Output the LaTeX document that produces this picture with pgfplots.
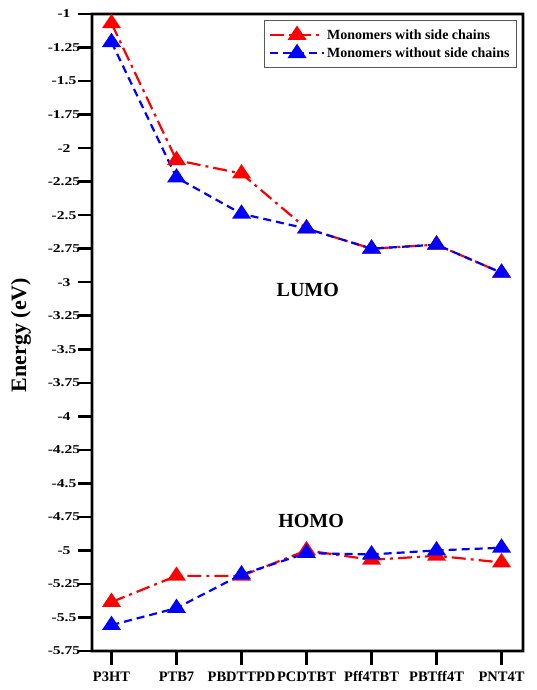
\documentclass[border=0pt]{standalone}
\usepackage{pgfplots}
\pgfplotsset{compat=1.18}
\usepackage{fontspec}
\setmainfont{Liberation Serif}
\newfontfamily\stretchfont[FakeStretch=1.3]{Liberation Serif}
\begin{document}
\begin{tikzpicture}
\begin{axis}[
  scale only axis,
  width=431pt, height=637pt,
  xmin=-0.30, xmax=6.33,
  ymin=-5.75, ymax=-1,
  ytick={-5.75,-5.5,-5.25,-5,-4.75,-4.5,-4.25,-4,-3.75,-3.5,-3.25,-3,-2.75,-2.5,-2.25,-2,-1.75,-1.5,-1.25,-1},
  yticklabel={\stretchfont\bfseries\pgfmathprintnumber[assume math mode=true]{\tick}},
  yticklabel style={anchor=center, xshift=-14pt, font=\fontsize{12}{13}\selectfont},
  xtick={0,...,6},
  xticklabels={P3HT,PTB7,PBDTTPD,PCDTBT,Pff4TBT,PBTff4T,PNT4T},
  xticklabel style={font=\bfseries\fontsize{14.5}{16}\selectfont, yshift=-3pt},
  tick align=outside,
  tick pos=left,
  major tick length=14pt,
  major tick style={draw=black, line width=2.5pt},
  axis line style={draw=black, line width=2.6pt},
  ylabel={Energy (eV)},
  ylabel style={at={(axis description cs:-0.1647,0.496)}, anchor=center, font=\bfseries\fontsize{22}{23}\selectfont},
  legend style={at={(rel axis cs:0.986,0.9906)}, anchor=north east, draw=gray!70!black, line width=0.8pt, font=\bfseries\fontsize{14}{16}\selectfont, row sep=3pt, inner xsep=5pt, inner ysep=7pt},
  legend cell align=left,
  legend image code/.code={\draw[mark repeat=2,mark phase=2] plot coordinates {(0pt,0pt) (27pt,0pt) (54pt,0pt)};},
  clip=false,
]
\addplot[red, line width=2.2pt, dash pattern=on 14pt off 5pt on 3pt off 5pt, mark=triangle*, mark size=7.5pt, mark options={solid, xscale=1.15}] coordinates {
 (0,-1.07) (1,-2.09) (2,-2.19) (3,-2.60) (4,-2.75) (5,-2.72) (6,-2.93)};
\addlegendentry{Monomers with side chains}
\addplot[blue, line width=2.2pt, dash pattern=on 8pt off 5pt, mark=triangle*, mark size=7.5pt, mark options={solid, xscale=1.15}] coordinates {
 (0,-1.21) (1,-2.22) (2,-2.49) (3,-2.60) (4,-2.75) (5,-2.72) (6,-2.93)};
\addlegendentry{Monomers without side chains}
\addplot[red, line width=2.2pt, dash pattern=on 14pt off 5pt on 3pt off 5pt, mark=triangle*, mark size=7.5pt, mark options={solid, xscale=1.15}, forget plot] coordinates {
 (0,-5.385) (1,-5.19) (2,-5.19) (3,-5.00) (4,-5.07) (5,-5.04) (6,-5.09)};
\addplot[blue, line width=2.2pt, dash pattern=on 8pt off 5pt, mark=triangle*, mark size=7.5pt, mark options={solid, xscale=1.15}, forget plot] coordinates {
 (0,-5.557) (1,-5.43) (2,-5.18) (3,-5.02) (4,-5.03) (5,-5.00) (6,-4.98)};
\node[font=\bfseries\fontsize{20}{21}\selectfont] at (axis cs:3.02,-3.06) {LUMO};
\node[font=\bfseries\fontsize{20}{21}\selectfont] at (axis cs:3.07,-4.78) {HOMO};
\fill[black, even odd rule] ([shift={(-1.3pt,-1.3pt)}]rel axis cs:0,0) rectangle ([shift={(1.3pt,1.3pt)}]rel axis cs:1,1)
  ([shift={(1.3pt,1.3pt)}]rel axis cs:0,0) rectangle ([shift={(-1.3pt,-1.3pt)}]rel axis cs:1,1);
\end{axis}
\path ([shift={(-92pt,-39pt)}]current axis.south west) rectangle ([shift={(14pt,14pt)}]current axis.north east);
\end{tikzpicture}
\end{document}
